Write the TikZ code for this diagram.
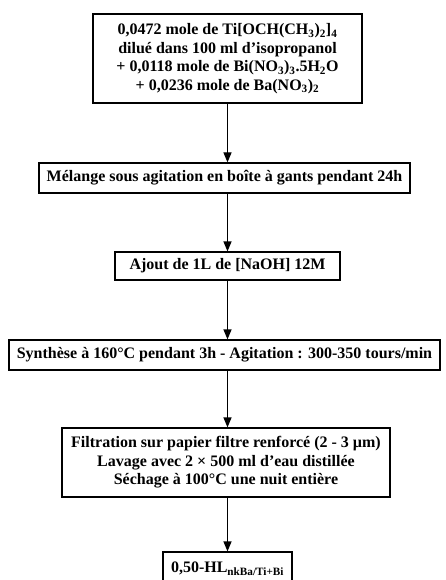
\documentclass[tikz,border=0pt]{standalone}
\usepackage{fontspec}
\setmainfont{Liberation Serif}
\usetikzlibrary{arrows.meta}
\tikzset{
  stepbox/.style={draw, line width=1.2pt, rectangle, inner sep=0pt, align=center,
    font=\fontsize{16}{18.5}\selectfont\bfseries},
  flow/.style={draw, line width=1.2pt, -{Triangle[length=10pt,width=8pt]}},
}
\begin{document}
\begin{tikzpicture}[x=1pt,y=-1pt]
\useasboundingbox (0,0) rectangle (446,580);
\node[stepbox, minimum width=269pt, minimum height=89pt] (b1) at (227.5,58.5)
  {0,0472 mole de Ti[OCH(CH\textsubscript{3})\textsubscript{2}]\textsubscript{4}\\
   dilué dans 100 ml d’isopropanol\\
   + 0,0118 mole de Bi(NO\textsubscript{3})\textsubscript{3}.5H\textsubscript{2}O\\
   + 0,0236 mole de Ba(NO\textsubscript{3})\textsubscript{2}};
\node[stepbox, minimum width=371pt, minimum height=30pt] (b2) at (224.5,178)
  {Mélange sous agitation en boîte à gants pendant 24h};
\node[stepbox, minimum width=225pt, minimum height=28pt] (b3) at (227.5,266)
  {Ajout de 1L de [NaOH] 12M};
\node[stepbox, minimum width=431pt, minimum height=30pt] (b4) at (224.5,355)
  {Synthèse à 160°C pendant 3h - Agitation : 300-350 tours/min};
\node[stepbox, minimum width=328pt, minimum height=69pt] (b5) at (226,462.5)
  {Filtration sur papier filtre renforcé (2 - 3 µm)\\
   Lavage avec 2 × 500 ml d’eau distillée\\
   Séchage à 100°C une nuit entière};
\node[stepbox, minimum width=129pt, minimum height=34pt] (b6) at (227.5,569)
  {0,50-HL\textsubscript{nkBa/Ti+Bi}};
\draw[flow] (b1.south) -- (b1.south |- b2.north);
\draw[flow] (b1.south |- b2.south) -- (b1.south |- b3.north);
\draw[flow] (b1.south |- b3.south) -- (b1.south |- b4.north);
\draw[flow] (b1.south |- b4.south) -- (b1.south |- b5.north);
\draw[flow] (b1.south |- b5.south) -- (b1.south |- b6.north);
\end{tikzpicture}
\end{document}
